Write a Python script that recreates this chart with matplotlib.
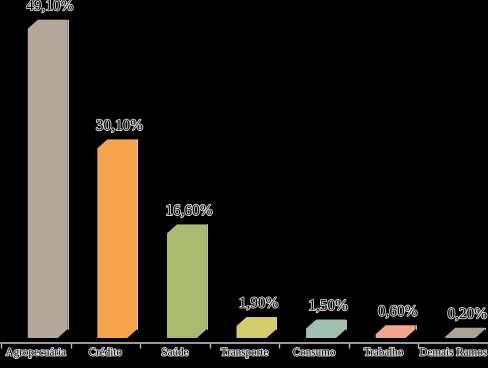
import matplotlib
matplotlib.use("Agg")
import matplotlib.pyplot as plt
from matplotlib.patches import Polygon
import matplotlib.patheffects as pe

categories = ["Agropecuária", "Crédito", "Saúde", "Transporte", "Consumo", "Trabalho", "Demais Ramos"]
values = [49.10, 30.10, 16.60, 1.90, 1.50, 0.60, 0.20]
labels = ["49,10%", "30,10%", "16,60%", "1,90%", "1,50%", "0,60%", "0,20%"]
colors = ["#b5a89b", "#f7a54b", "#aaba6e", "#d6cc6e", "#a0c0b0", "#f5a58c", "#a8a691"]

W, H = 489, 368
fig = plt.figure(figsize=(W / 100, H / 100), dpi=100, facecolor="black")
ax = fig.add_axes([1 / W, 25 / H, 487 / W, 343 / H])
ax.set_facecolor("black")

px_per_cat = 487 / 7
px_per_pct = 6.3
ymin = -5 / px_per_pct
ax.set_xlim(-0.5, 6.5)
ax.set_ylim(ymin, ymin + 343 / px_per_pct)

dx = 10 / px_per_cat
dy = 9 / px_per_pct
left_off = -8 / px_per_cat
width = 30 / px_per_cat

halo = [pe.withStroke(linewidth=1.3, foreground="#d8d8d8")]

for i, (v, c, lab) in enumerate(zip(values, colors, labels)):
    x0 = i + left_off
    x1 = x0 + width
    y0, y1 = 0, v
    pts = [(x0, y0), (x1, y0), (x1 + dx, y0 + dy), (x1 + dx, y1 + dy),
           (x0 + dx, y1 + dy), (x0, y1)]
    ax.add_patch(Polygon(pts, closed=True, facecolor=c, edgecolor="none"))
    # subtle right edge highlight
    ax.plot([x1 + dx, x1 + dx], [y0 + dy, y1 + dy], color="#e8e4dc", lw=0.6)
    ax.text(x0 + (width + dx) / 2 + 2 / px_per_cat, v + dy + 13 / px_per_pct, lab,
            ha="center", va="center", fontsize=11, family="Liberation Serif",
            color="black", path_effects=halo, clip_on=False)

for s in ["top", "right", "left"]:
    ax.spines[s].set_visible(False)
ax.spines["bottom"].set_color("#b8b8b8")
ax.spines["bottom"].set_linewidth(1.2)
ax.set_yticks([])
ax.set_xticks([i - 0.5 for i in range(8)], minor=False)
ax.set_xticklabels([])
ax.tick_params(axis="x", direction="out", length=3.5, color="#b8b8b8", width=1)
for i, cat in enumerate(categories):
    ax.text(i, ymin - 10 / px_per_pct, cat, ha="center", va="center", fontsize=8,
            family="Liberation Serif", color="black", path_effects=halo, clip_on=False)

fig.savefig("out.png", dpi=100, facecolor="black")
